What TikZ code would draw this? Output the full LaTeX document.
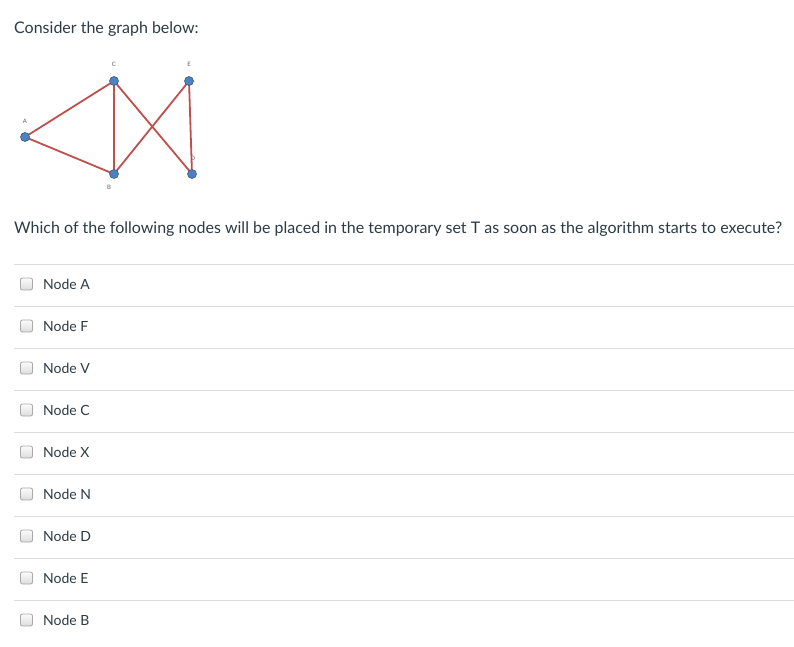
\documentclass[tikz,border=0pt]{standalone}
\usepackage{fontspec}
\setmainfont{Lato}
\definecolor{txt}{HTML}{2D3B45}
\definecolor{edgec}{HTML}{C0504D}
\definecolor{vfill}{HTML}{4F81BD}
\definecolor{vdraw}{HTML}{385D8A}
\definecolor{rulec}{HTML}{DDDDDD}
\definecolor{boxd}{HTML}{A8A8A8}
\definecolor{boxf}{HTML}{DCDCDC}
\begin{document}
\begin{tikzpicture}[x=1pt,y=-1pt,
  vert/.style={circle,fill=vfill,draw=vdraw,line width=0.6pt,minimum size=9pt,inner sep=0pt},
  vlab/.style={font=\fontsize{6}{6}\selectfont,text=txt!80,inner sep=0pt},
  gedge/.style={edgec,line width=1.8pt},
  big/.style={font=\fontsize{16}{19}\selectfont,text=txt,inner sep=0pt,anchor=base west},
  opt/.style={font=\fontsize{14}{17}\selectfont,text=txt,inner sep=0pt,anchor=base west},
  cbox/.style={draw=boxd,line width=0.8pt,rounded corners=2pt,top color=white!90!boxf,bottom color=boxf,minimum size=12pt,inner sep=0pt},
  sep/.style={rulec,line width=1pt}]
\useasboundingbox (0,0) rectangle (794,646);
\fill[white] (0,0) rectangle (794,646);
\node[big] (title) at (14,33) {Consider the graph below:};
% graph
\coordinate (pA) at (25,137);
\coordinate (pC) at (114,81);
\coordinate (pE) at (189,81);
\coordinate (pB) at (114,174);
\coordinate (pD) at (192,174);
\draw[gedge] (pA) -- (pC);
\draw[gedge] (pA) -- (pB);
\draw[gedge] (pC) -- (pB);
\draw[gedge] (pC) -- (pD);
\draw[gedge] (pB) -- (pE);
\draw[gedge] (pE) -- (pD);
\node[vert] (A) at (pA) {};
\node[vert] (C) at (pC) {};
\node[vert] (E) at (pE) {};
\node[vert] (B) at (pB) {};
\node[vert] (D) at (pD) {};
\node[vlab] (lA) at (25,121) {A};
\node[vlab] (lC) at (114,64) {C};
\node[vlab] (lE) at (189,64) {E};
\node[vlab] (lB) at (109,187) {B};
\node[vlab] (lD) at (193,158) {D};
\node[big] (q) at (14,233) {Which of the following nodes will be placed in the temporary set T as soon as the algorithm starts to execute?};
% options
\foreach \i/\t in {0/A,1/F,2/V,3/C,4/X,5/N,6/D,7/E,8/B}{
  \draw[sep] (14,{264+42*\i}) -- (794,{264+42*\i});
  \node[cbox] (cb\i) at (26.5,{284+42*\i}) {};
  \node[opt] (o\i) at (43,{289+42*\i}) {Node \t};
}
\draw[sep] (14,600) -- (794,600);
\end{tikzpicture}
\end{document}
